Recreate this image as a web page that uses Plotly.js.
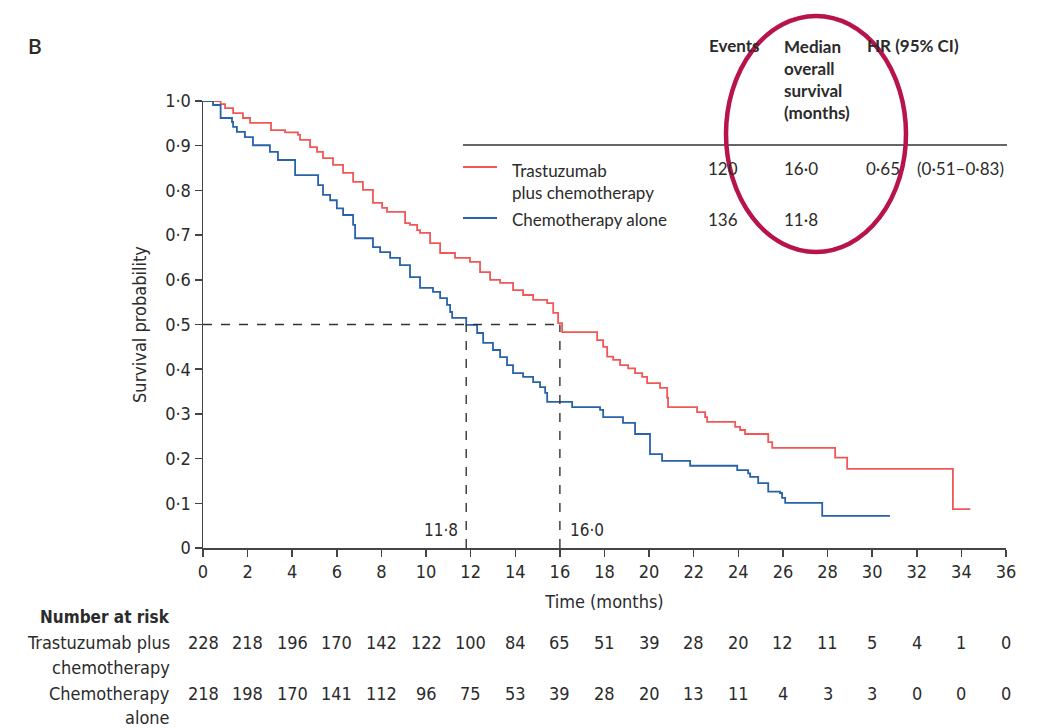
<!DOCTYPE html>
<html>
<head>
<meta charset="utf-8">
<script src="https://cdn.plot.ly/plotly-3.0.1.min.js"></script>
<style>html,body{margin:0;padding:0;background:#fff;}#chart{width:1041px;height:728px;}</style>
</head>
<body>
<div id="chart"></div>
<script>
// ---- data ----
const redTime = [0, 0.79, 0.99, 1.35, 1.79, 2.11, 3.05, 3.68, 4.26, 4.35, 4.8, 5.11, 5.38, 5.83, 6.28, 6.73, 7.17, 7.62, 8.03, 8.25, 9.06, 9.28, 9.6, 9.73, 10.18, 10.63, 11.3, 11.97, 12.42, 12.87, 13.32, 13.9, 14.35, 14.8, 15.43, 15.7, 15.92, 16.1, 17.67, 17.94, 18.12, 18.39, 18.7, 19.06, 19.37, 19.69, 19.91, 20.49, 20.81, 20.85, 22.15, 22.51, 22.6, 23.86, 24.08, 24.3, 25.34, 25.52, 28.34, 28.88, 33.62, 34.4];
const redSurv = [1.0, 0.993, 0.984, 0.973, 0.962, 0.951, 0.935, 0.93, 0.924, 0.913, 0.897, 0.886, 0.872, 0.857, 0.839, 0.819, 0.801, 0.772, 0.761, 0.752, 0.727, 0.723, 0.711, 0.705, 0.682, 0.660, 0.649, 0.640, 0.617, 0.600, 0.593, 0.577, 0.566, 0.555, 0.548, 0.526, 0.503, 0.483, 0.465, 0.450, 0.428, 0.421, 0.409, 0.402, 0.391, 0.383, 0.369, 0.358, 0.336, 0.315, 0.304, 0.293, 0.282, 0.271, 0.264, 0.255, 0.237, 0.224, 0.202, 0.177, 0.087, 0.087];

const blueTime = [0, 0.45, 0.79, 1.3, 1.35, 1.52, 1.88, 2.24, 3.0, 3.36, 4.13, 5.16, 5.38, 5.7, 6.0, 6.28, 6.73, 6.82, 7.62, 7.94, 8.39, 8.83, 9.28, 9.73, 10.31, 10.63, 10.94, 11.08, 11.17, 11.8, 12.29, 12.56, 13.0, 13.32, 13.63, 13.9, 14.35, 14.8, 15.11, 15.34, 15.43, 16.55, 17.8, 17.94, 18.83, 19.37, 20.04, 20.58, 21.84, 23.95, 24.44, 24.53, 24.89, 25.34, 25.87, 25.96, 26.1, 27.76, 30.8];
const blueSurv = [1.0, 0.991, 0.962, 0.953, 0.942, 0.931, 0.919, 0.901, 0.886, 0.868, 0.834, 0.812, 0.790, 0.778, 0.760, 0.745, 0.723, 0.693, 0.673, 0.662, 0.649, 0.633, 0.606, 0.582, 0.573, 0.559, 0.544, 0.528, 0.515, 0.499, 0.481, 0.459, 0.443, 0.427, 0.409, 0.391, 0.383, 0.371, 0.360, 0.347, 0.327, 0.315, 0.309, 0.293, 0.280, 0.255, 0.210, 0.195, 0.184, 0.174, 0.167, 0.159, 0.145, 0.126, 0.123, 0.112, 0.101, 0.072, 0.072];

const seriesNames = ["Trastuzumab plus chemotherapy", "Chemotherapy alone"];
const medianLevel = 0.5;
const medians = [16.0, 11.8];
const medianLabels = ["16·0", "11·8"];

const xTickVals = [0,2,4,6,8,10,12,14,16,18,20,22,24,26,28,30,32,34,36];
const yTickVals = [0,0.1,0.2,0.3,0.4,0.5,0.6,0.7,0.8,0.9,1.0];
const yTickText = ["0","0·1","0·2","0·3","0·4","0·5","0·6","0·7","0·8","0·9","1·0"];

const riskTimes = [0,2,4,6,8,10,12,14,16,18,20,22,24,26,28,30,32,34,36];
const riskTrast = [228,218,196,170,142,122,100,84,65,51,39,28,20,12,11,5,4,1,0];
const riskChemo = [218,198,170,141,112,96,75,53,39,28,20,13,11,4,3,3,0,0,0];

const tableHeaders = ["Events", "Median<br>overall<br>survival<br>(months)", "HR (95% CI)"];
const tableEvents = ["120", "136"];
const tableMedian = ["16·0", "11·8"];
const tableHR = ["0·65", "(0·51–0·83)"];

// ---- style ----
const RED = "#f25757";
const BLUE = "#2862a8";
const AX = "#444";
const TXT = "#2b2b2b";
const NARROW = "'Liberation Sans Narrow', 'DejaVu Sans Condensed', 'Arial Narrow', sans-serif";
const SANS = "Lato, 'Noto Sans', sans-serif";

const W = 1041, H = 728;
const L = 203, R = 35, T = 101, B = 180;
const PW = W - L - R, PH = H - T - B;
const px = p => (p - L) / PW;          // pixel x -> paper
const py = p => (H - B - p) / PH;      // pixel y -> paper

const traces = [
  {x: redTime, y: redSurv, mode: "lines", line: {shape: "hv", color: RED, width: 1.8}, name: seriesNames[0], cliponaxis: false, showlegend: false},
  {x: blueTime, y: blueSurv, mode: "lines", line: {shape: "hv", color: BLUE, width: 1.8}, name: seriesNames[1], cliponaxis: false, showlegend: false}
];

const shapes = [];
const dash = {color: "#333", width: 1.4, dash: "dash"};
shapes.push({type: "line", xref: "x", yref: "y", x0: 0, x1: Math.max(...medians), y0: medianLevel, y1: medianLevel, line: dash});
medians.forEach(m => shapes.push({type: "line", xref: "x", yref: "y", x0: m, x1: m, y0: 0, y1: medianLevel, line: dash}));
// legend table rule + samples
shapes.push({type: "line", xref: "paper", yref: "paper", x0: px(463), x1: px(1007), y0: py(145), y1: py(145), line: {color: "#333", width: 1.5}});
shapes.push({type: "line", xref: "paper", yref: "paper", x0: px(463), x1: px(497), y0: py(167), y1: py(167), line: {color: RED, width: 1.8}});
shapes.push({type: "line", xref: "paper", yref: "paper", x0: px(463), x1: px(497), y0: py(218), y1: py(218), line: {color: BLUE, width: 1.8}});
// highlight ellipse
shapes.push({type: "circle", xref: "paper", yref: "paper", x0: px(726), x1: px(906), y0: py(252), y1: py(16), line: {color: "#b8134c", width: 4.5}});

const annotations = [];
function ann(x, y, text, opts) {
  annotations.push(Object.assign({xref: "paper", yref: "paper", x: px(x), y: py(y), text: text, showarrow: false,
    xanchor: "left", yanchor: "middle", font: {family: NARROW, size: 17, color: TXT}}, opts || {}));
}
// panel letter
ann(26, 45, "B", {font: {family: SANS, size: 21, color: TXT, weight: 600}});
// median labels
annotations.push({xref: "x", yref: "paper", x: medians[1], y: py(530), text: medianLabels[1], showarrow: false, xanchor: "right", yanchor: "middle", xshift: -6, font: {family: NARROW, size: 17, color: TXT}});
annotations.push({xref: "x", yref: "paper", x: medians[0], y: py(530), text: medianLabels[0], showarrow: false, xanchor: "left", yanchor: "middle", xshift: 8, font: {family: NARROW, size: 17, color: TXT}});
// table headers
const HF = {family: SANS, size: 17, color: TXT, weight: "bold"};
ann(707, 45, "<b>" + tableHeaders[0] + "</b>", {font: HF});
ann(782, 45, "<b>" + tableHeaders[1] + "</b>", {font: HF, yanchor: "top", y: py(34), align: "left"});
ann(865, 45, "<b>" + tableHeaders[2] + "</b>", {font: HF});
// table rows
const RF = {family: SANS, size: 17, color: TXT};
ann(510, 181, seriesNames[0].replace(" plus", "<br>plus"), {font: RF, align: "left"});
ann(510, 219, seriesNames[1], {font: RF});
ann(706, 168, tableEvents[0], {font: RF});
ann(706, 219, tableEvents[1], {font: RF});
ann(782, 168, tableMedian[0], {font: RF});
ann(782, 219, tableMedian[1], {font: RF});
ann(864, 168, tableHR[0], {font: RF});
ann(915, 168, tableHR[1], {font: RF});
// number at risk
const NF = {family: NARROW, size: 18, color: TXT};
ann(172, 617, "<b>Number at risk</b>", {xanchor: "right", font: {family: NARROW, size: 17, color: TXT, weight: "bold"}});
ann(172, 642, "Trastuzumab plus", {xanchor: "right", font: NF});
ann(172, 667, "chemotherapy", {xanchor: "right", font: NF});
ann(172, 693, "Chemotherapy", {xanchor: "right", font: NF});
ann(172, 717, "alone", {xanchor: "right", font: NF});
riskTimes.forEach((t, i) => {
  annotations.push({xref: "x", yref: "paper", x: t, y: py(642), text: String(riskTrast[i]), showarrow: false, xanchor: "center", yanchor: "middle", font: NF});
  annotations.push({xref: "x", yref: "paper", x: t, y: py(693), text: String(riskChemo[i]), showarrow: false, xanchor: "center", yanchor: "middle", font: NF});
});

const layout = {
  width: W, height: H,
  margin: {l: L, r: R, t: T, b: B, pad: 0},
  paper_bgcolor: "#fff", plot_bgcolor: "#fff",
  showlegend: false,
  font: {family: NARROW, color: TXT},
  xaxis: {
    range: [0, 36], tickvals: xTickVals, ticktext: xTickVals.map(String),
    ticks: "outside", ticklen: 7, tickwidth: 1.5, tickcolor: AX,
    showline: true, linecolor: AX, linewidth: 1.5, showgrid: false, zeroline: false,
    tickfont: {family: NARROW, size: 18, color: TXT},
    title: {text: "Time (months)", font: {family: NARROW, size: 18, color: TXT}, standoff: 14}
  },
  yaxis: {
    range: [0, 1], tickvals: yTickVals, ticktext: yTickText,
    ticks: "outside", ticklen: 7, tickwidth: 1.5, tickcolor: AX,
    showline: true, linecolor: AX, linewidth: 1.5, showgrid: false, zeroline: false,
    tickfont: {family: NARROW, size: 18, color: TXT},
    title: {text: "Survival probability", font: {family: NARROW, size: 18, color: TXT}, standoff: 14}
  },
  shapes: shapes,
  annotations: annotations
};

Plotly.newPlot("chart", traces, layout, {displayModeBar: false, staticPlot: true});
</script>
</body>
</html>
